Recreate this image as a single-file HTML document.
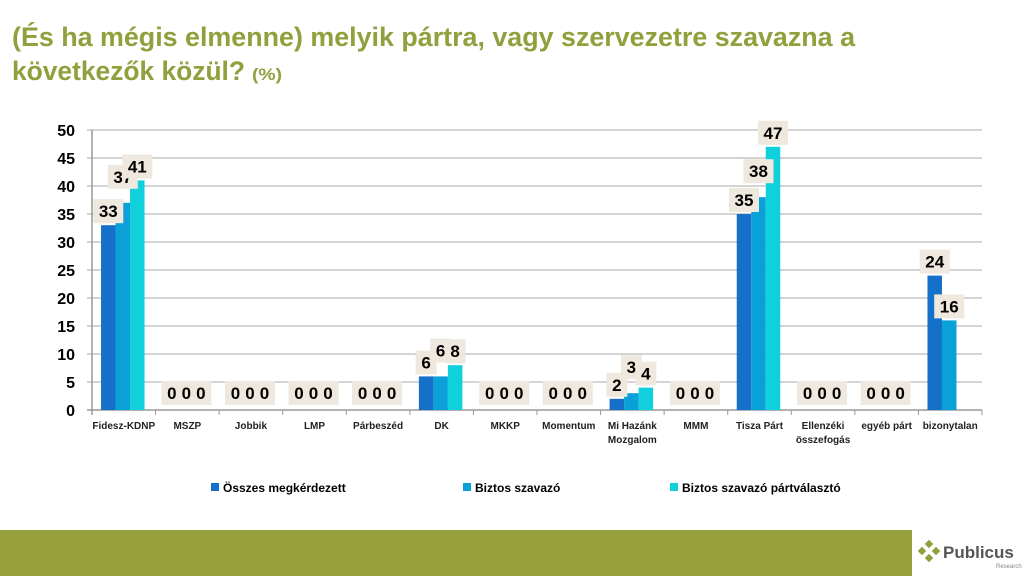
<!DOCTYPE html>
<html><head><meta charset="utf-8"><style>
body{margin:0;width:1024px;height:576px;overflow:hidden;background:#fff;font-family:"Liberation Sans",sans-serif}
</style></head><body>
<svg id="s" width="1024" height="576" xmlns="http://www.w3.org/2000/svg">
<text x="12" y="46" font-size="27" font-weight="bold" fill="#8fa03c" textLength="843" lengthAdjust="spacingAndGlyphs">(És ha mégis elmenne) melyik pártra, vagy szervezetre szavazna a</text>
<text x="12" y="80" font-size="27" font-weight="bold" fill="#8fa03c" textLength="233" lengthAdjust="spacingAndGlyphs">következők közül?</text>
<text x="252" y="80" font-size="17" font-weight="bold" fill="#8fa03c" textLength="30" lengthAdjust="spacingAndGlyphs">(%)</text>
<g id="plot"></g>
<rect x="0" y="530" width="912" height="46" fill="#96a03c"/>
<g>
<g fill="#8fa03c"><rect x="926" y="541" width="6" height="6" transform="rotate(45 929 544)"/><rect x="933" y="548" width="6" height="6" transform="rotate(45 936 551)"/><rect x="919" y="548" width="6" height="6" transform="rotate(45 922 551)"/><rect x="926" y="555" width="6" height="6" transform="rotate(45 929 558)"/></g>
<text x="943" y="558" font-size="17" font-weight="bold" fill="#555">Publicus</text>
<text x="996" y="568" font-size="6" fill="#888">Research</text>
</g>
</svg>
<script>
const categories=["Fidesz-KDNP","MSZP","Jobbik","LMP","Párbeszéd","DK","MKKP","Momentum","Mi Hazánk|Mozgalom","MMM","Tisza Párt","Ellenzéki|összefogás","egyéb párt","bizonytalan"];
const seriesNames=["Összes megkérdezett","Biztos szavazó","Biztos szavazó pártválasztó"];
const s1=[33,0,0,0,0,6,0,0,2,0,35,0,0,24];
const s2=[37,0,0,0,0,6,0,0,3,0,38,0,0,16];
const s3=[41,0,0,0,0,8,0,0,4,0,47,0,0,null];
const yTicks=[0,5,10,15,20,25,30,35,40,45,50];
const colors=["#1470c8","#0aa0d8","#10d0dc"];
const NS="http://www.w3.org/2000/svg";
const plot=document.getElementById('plot');
const X0=92,X1=982,Y0=410,Y1=130,YMAX=50;
const y=v=>Y0-(v/YMAX)*(Y0-Y1);
const cw=(X1-X0)/categories.length;
const x=i=>X0+i*cw;
function mk(t,a){const e=document.createElementNS(NS,t);for(const k in a)e.setAttribute(k,a[k]);plot.appendChild(e);return e;}
yTicks.forEach(v=>{
 const l=mk('line',{x1:X0-5,x2:X1,y1:y(v),y2:y(v),stroke:v===0?'#999':'#bbb','stroke-width':v===0?1.5:1.2});
 
 
 const t=mk('text',{x:X0-17,y:y(v)+6,'font-size':16,'font-weight':'bold','text-anchor':'end',fill:'#000'});t.textContent=v;
 
 
});
const ax=mk('line',{x1:X0,x2:X0,y1:Y1,y2:Y0+5,stroke:'#999','stroke-width':1.5});


const series=[s1,s2,s3];
categories.forEach((c,i)=>{
 const tk=mk('line',{x1:x(i+1),x2:x(i+1),y1:Y0,y2:Y0+5,stroke:'#999'});
 
 
 c.split('|').forEach((p,j)=>{
  const t=mk('text',{x:x(i)+cw/2,y:Y0+19+j*14,'font-size':10,'font-weight':'bold','text-anchor':'middle',fill:'#222'});t.textContent=p;
  
  
 });
 const bw=14.5,gx=x(i)+cw/2-bw*1.5-1;
 series.forEach((s,k)=>{
  const v=s[i];if(v===null)return;
  const bx=gx+k*bw;
  if(v>0){const r=mk('rect',{x:bx,y:y(v),width:bw,height:Y0-y(v),fill:colors[k]});
   
   }
 });
 series.forEach((s,k)=>{
  const v=s[i];if(v===null)return;
  const bx=gx+k*bw+bw/2;
  const str=String(v);const w=str.length>1?30:21;
  let ly;
  if(v>0){ly=(k===1&&s3[i]!==null)?y(v)-26:y(v)-14;}
  else ly=Y0-17;
  const bg=mk('rect',{x:bx-w/2,y:ly-12,width:w,height:24,fill:'#efe8de'});
  
  
  const t=mk('text',{x:bx,y:ly+6,'font-size':17,'font-weight':'bold','text-anchor':'middle',fill:'#000'});t.textContent=str;
  
  
 });
});
const lx=[211,463,670];
seriesNames.forEach((n,k)=>{
 const r=mk('rect',{x:lx[k],y:483,width:8,height:8,fill:colors[k]});
 
 
 const t=mk('text',{x:lx[k]+12,y:492,'font-size':12,'font-weight':'bold',fill:'#000'});t.textContent=n;
 
 
});
</script>
</body></html>
